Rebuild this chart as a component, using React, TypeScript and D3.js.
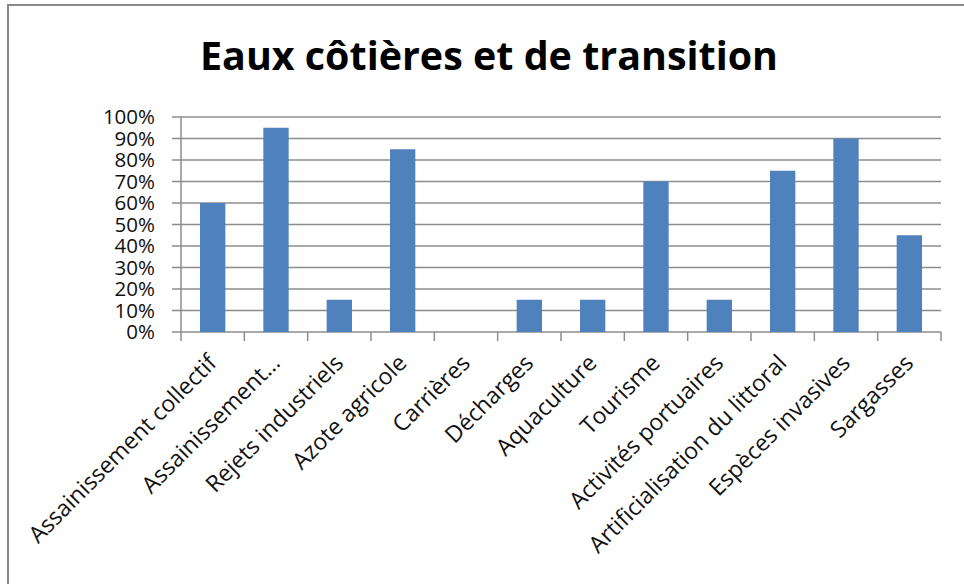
import React from "react";
import * as d3 from "d3";

const title = "Eaux côtières et de transition";

const categories = [
  "Assainissement collectif",
  "Assainissement…",
  "Rejets industriels",
  "Azote agricole",
  "Carrières",
  "Décharges",
  "Aquaculture",
  "Tourisme",
  "Activités portuaires",
  "Artificialisation du littoral",
  "Espèces invasives",
  "Sargasses",
];

const values = [0.6, 0.95, 0.15, 0.85, 0, 0.15, 0.15, 0.7, 0.15, 0.75, 0.9, 0.45];

const yTicks = [0, 0.1, 0.2, 0.3, 0.4, 0.5, 0.6, 0.7, 0.8, 0.9, 1];

const W = 964;
const H = 584;
const margin = { top: 117, right: 23, bottom: 252, left: 181 };
const font = "'Open Sans', 'Liberation Sans', sans-serif";
const gridColor = "#8c8c8c";

const App = () => {
  const innerW = W - margin.left - margin.right;
  const innerH = H - margin.top - margin.bottom;

  const x = d3.scaleBand<string>().domain(categories).range([0, innerW]).paddingInner(0.6).paddingOuter(0.3);
  const band = d3.scaleBand<string>().domain(categories).range([0, innerW]);
  const y = d3.scaleLinear().domain([0, 1]).range([innerH, 0]);
  const pct = d3.format(".0%");

  return (
    <svg width={W} height={H} style={{ position: "absolute", left: 0, top: 0, background: "#fff" }}>
      <rect x={8} y={5} width={W + 20} height={H + 20} fill="#fff" stroke="#888" strokeWidth={2} />
      <text x={489} y={70} textAnchor="middle" fontFamily={font} fontWeight="bold" fontSize={40}
        textLength={578} lengthAdjust="spacingAndGlyphs" fill="#000">
        {title}
      </text>
      <g transform={`translate(${margin.left},${margin.top})`}>
        {yTicks.map((t) => (
          <g key={t}>
            <line x1={-9} x2={innerW} y1={y(t)} y2={y(t)} stroke={gridColor} strokeWidth={1.5} />
            <text x={-26} y={y(t)} dy="0.36em" textAnchor="end" fontFamily={font} fontSize={20.5} fill="#111">
              {pct(t)}
            </text>
          </g>
        ))}
        <line x1={0} x2={0} y1={0} y2={innerH} stroke={gridColor} strokeWidth={1.5} />
        {categories.map((c) => (
          <line key={c} x1={band(c)!} x2={band(c)!} y1={innerH} y2={innerH + 9} stroke={gridColor} strokeWidth={1.5} />
        ))}
        <line x1={innerW} x2={innerW} y1={innerH} y2={innerH + 9} stroke={gridColor} strokeWidth={1.5} />
        {categories.map((c, i) => (
          <rect key={c} x={x(c)!} y={y(values[i])} width={x.bandwidth()} height={innerH - y(values[i])} fill="#4f81bd" />
        ))}
        {categories.map((c) => {
          const cx = band(c)! + band.bandwidth() / 2 - 6;
          const cy = innerH + 21;
          return (
            <text key={c} transform={`translate(${cx},${cy}) rotate(-45)`} textAnchor="end" dy="0.7em"
              fontFamily={font} fontSize={23} fill="#111">
              {c}
            </text>
          );
        })}
      </g>
    </svg>
  );
};

export default App;
